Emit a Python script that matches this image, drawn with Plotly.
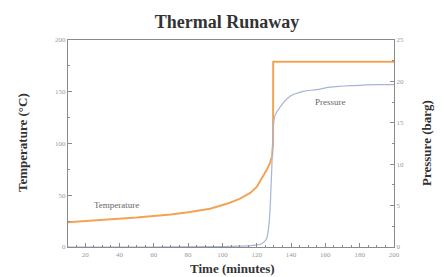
import plotly.graph_objects as go

# Temperature (°C) vs time (minutes)
temp_time = [10, 30, 50, 70, 80, 92.8, 104, 110, 116, 120, 123.6, 126, 127.7, 129, 129.5, 129.6, 140, 160, 180, 200]
temp_vals = [24, 26, 28.5, 31.5, 33.5, 37, 42.5, 46.5, 52, 58, 68, 75, 81, 88, 100, 179, 179, 179, 179, 179]

# Pressure (barg) vs time (minutes)
pres_time = [10, 60, 100, 110, 118, 123, 125.5, 127, 128.5, 129.5, 130.5, 133.6, 139.4, 147.1, 154.9, 162.7, 177, 191.8, 200]
pres_vals = [0.0, 0.0, 0.05, 0.1, 0.2, 0.4, 0.9, 2.5, 8.0, 13.5, 15.8, 16.9, 18.2, 18.8, 19.0, 19.3, 19.5, 19.6, 19.6]

x_ticks = [20, 40, 60, 80, 100, 120, 140, 160, 180, 200]
y1_ticks = [0, 50, 100, 150, 200]
y2_ticks = [0, 5, 10, 15, 20, 25]

SERIF = "Liberation Serif, Times New Roman, serif"
AXC = "#8a8a8a"

# page body has an 8px margin: figure is sized so it ends at the window edge
W, H, OFF = 438, 269, 8
L, R, T, B = 60, 52, 32, 30
PW, PH = W - L - R, H - T - B

def px_x(x):
    return (x - OFF - L) / PW

def px_y(y):
    return (T + PH - (y - OFF)) / PH

fig = go.Figure()
fig.add_trace(go.Scatter(x=temp_time, y=temp_vals, mode="lines",
                         line=dict(color="#f2a456", width=2), yaxis="y", showlegend=False))
fig.add_trace(go.Scatter(x=pres_time, y=pres_vals, mode="lines", line_shape="spline",
                         line=dict(color="#a6b4d6", width=1.2), yaxis="y2", showlegend=False))

tick_font = dict(family=SERIF, size=7, color="#999999")

fig.update_layout(
    width=W, height=H,
    margin=dict(l=L, r=R, t=T, b=B),
    paper_bgcolor="white", plot_bgcolor="white",
    title=dict(text="<b>Thermal Runaway</b>", x=(227 - OFF) / W, xanchor="center",
               y=1 - (22 - OFF) / H, yanchor="middle", yref="container",
               font=dict(family=SERIF, size=18, color="#333333")),
    xaxis=dict(range=[10, 200], tickvals=x_ticks, ticks="inside", ticklen=4, tickcolor=AXC,
               minor=dict(dtick=5, ticks="inside", ticklen=2, tickcolor=AXC),
               showline=True, linecolor=AXC, linewidth=1.2, mirror=True,
               showgrid=False, zeroline=False, tickfont=tick_font),
    yaxis=dict(range=[0, 200], tickvals=y1_ticks, ticks="inside", ticklen=4, tickcolor=AXC,
               minor=dict(dtick=25, ticks="inside", ticklen=2, tickcolor=AXC),
               showline=True, linecolor=AXC, linewidth=1.2,
               showgrid=False, zeroline=False, tickfont=tick_font),
    yaxis2=dict(range=[0, 25], tickvals=y2_ticks, ticks="inside", ticklen=4, tickcolor=AXC,
                minor=dict(dtick=2.5, ticks="inside", ticklen=2, tickcolor=AXC),
                overlaying="y", side="right",
                showline=True, linecolor=AXC, linewidth=1.2,
                showgrid=False, zeroline=False, tickfont=tick_font),
)

title_font = dict(family=SERIF, size=13, color="#333333")
fig.add_annotation(text="<b>Temperature (°C)</b>", xref="paper", yref="paper",
                   x=px_x(22), y=px_y(143), textangle=-90,
                   xanchor="center", yanchor="middle",
                   showarrow=False, font=title_font)
fig.add_annotation(text="<b>Pressure (barg)</b>", xref="paper", yref="paper",
                   x=px_x(426), y=px_y(143), textangle=-90,
                   xanchor="center", yanchor="middle",
                   showarrow=False, font=title_font)
fig.add_annotation(text="<b>Time (minutes)</b>", xref="paper", yref="paper",
                   x=px_x(232), y=px_y(268), borderpad=0,
                   xanchor="center", yanchor="middle",
                   showarrow=False, font=dict(family=SERIF, size=13, color="#333333"))

label_font = dict(family=SERIF, size=9, color="#666666")
fig.add_annotation(text="Temperature", x=24, y=41, xref="x", yref="y",
                   xanchor="left", yanchor="middle", showarrow=False, font=label_font)
fig.add_annotation(text="Pressure", x=152.5, y=17.5, xref="x", yref="y2",
                   xanchor="left", yanchor="middle", showarrow=False, font=label_font)

fig.write_html("out.html")
